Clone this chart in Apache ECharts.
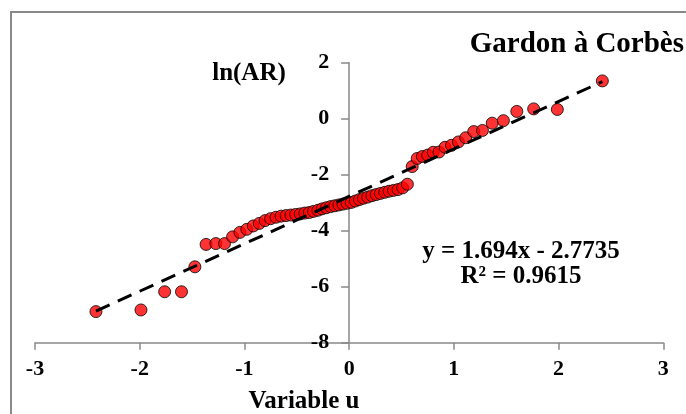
<!DOCTYPE html>
<html>
<head>
<meta charset="utf-8">
<script src="https://cdn.jsdelivr.net/npm/echarts@6/dist/echarts.min.js"></script>
<style>
html,body{margin:0;padding:0;background:#fff;}
#chart{width:686px;height:414px;}
</style>
</head>
<body>
<div id="chart"></div>
<script>
// Normal variate u (x) and ln(AR) (y)
var uValues = [-2.418,-1.988,-1.762,-1.601,-1.473,-1.366,-1.273,-1.190,-1.113,-1.043,-0.977,-0.916,-0.858,-0.803,-0.750,-0.699,-0.650,-0.602,-0.556,-0.511,-0.467,-0.424,-0.381,-0.340,-0.298,-0.258,-0.217,-0.177,-0.137,-0.098,-0.059,-0.020,
  0.020,0.059,0.098,0.137,0.177,0.217,0.258,0.298,0.340,0.381,0.424,0.467,0.511,0.556,0.602,0.650,0.699,0.750,0.803,0.858,0.916,0.977,1.043,1.113,1.190,1.273,1.366,1.473,1.601,1.762,1.988,2.418];
var lnAR = [-6.89,-6.83,-6.18,-6.18,-5.29,-4.49,-4.46,-4.46,-4.22,-4.06,-3.95,-3.83,-3.74,-3.64,-3.57,-3.52,-3.48,-3.46,-3.44,-3.42,-3.40,-3.37,-3.35,-3.31,-3.27,-3.22,-3.18,-3.14,-3.11,-3.08,-3.05,-3.02,
  -2.99,-2.94,-2.89,-2.84,-2.80,-2.75,-2.71,-2.67,-2.63,-2.59,-2.56,-2.53,-2.47,-2.34,-1.71,-1.42,-1.35,-1.30,-1.20,-1.19,-1.02,-0.95,-0.83,-0.68,-0.46,-0.42,-0.16,-0.07,0.26,0.35,0.33,1.35];
// Linear trend line end points (y = 1.694x - 2.7735)
var trendX = [-2.418, 2.418];
var trendY = [-6.870, 1.323];
var xTicks = ['-3','-2','-1','0','1','2','3'];
var yTicks = ['-8','-6','-4','-2','0','2'];
var titleText = 'Gardon à Corbès';
var yName = 'ln(AR)';
var xName = 'Variable u';
var eqLine1 = 'y = 1.694x - 2.7735';
var eqLine2 = 'R² = 0.9615';

var FONT = '"Liberation Serif","Times New Roman",serif';
var pts = uValues.map(function(u,i){return [u, lnAR[i]];});
var trend = trendX.map(function(x,i){return [x, trendY[i]];});

var gridLeft = 35, gridRight = 22.7;
var plotW = 686 - gridLeft - gridRight;
var yAxisShift = plotW * (0 - (-3)) / 6; // y axis crosses x at 0

var chart = echarts.init(document.getElementById('chart'), null, {renderer:'canvas'});
chart.setOption({
  animation:false,
  backgroundColor:'#fff',
  grid:{left:gridLeft, right:gridRight, top:62.7, bottom:71.3},
  xAxis:{
    type:'value', min:-3, max:3, interval:1,
    axisLine:{onZero:false, lineStyle:{color:'#898989', width:1.5}},
    axisTick:{show:true, length:7, lineStyle:{color:'#898989', width:1.5}},
    splitLine:{show:false},
    axisLabel:{color:'#000', fontFamily:FONT, fontWeight:'bold', fontSize:22, margin:16,
      formatter:function(v){return String(v);}}
  },
  yAxis:{
    type:'value', min:-8, max:2, interval:2, offset:-yAxisShift,
    axisLine:{onZero:false, lineStyle:{color:'#898989', width:1.5}},
    axisTick:{show:true, length:8, lineStyle:{color:'#898989', width:1.5}},
    splitLine:{show:false},
    axisLabel:{color:'#000', fontFamily:FONT, fontWeight:'bold', fontSize:22, margin:20,
      formatter:function(v){return String(v);}}
  },
  series:[
    {type:'scatter', data:pts, symbol:'circle', symbolSize:12, z:2,
      itemStyle:{color:'#ff0000', borderColor:'#000', borderWidth:1}},
    {type:'line', data:trend, showSymbol:false, symbol:'none', z:3,
      lineStyle:{color:'#000', width:3, type:[15,9]}}
  ],
  graphic:[
    {type:'rect', shape:{x:11, y:12, width:700, height:430}, style:{fill:'none', stroke:'#898989', lineWidth:2}, z:-1, silent:true},
    {type:'text', x:684, y:45, style:{text:titleText, font:'bold 29px '+FONT, fill:'#000', textAlign:'right', textVerticalAlign:'middle'}},
    {type:'text', x:249, y:74, style:{text:yName, font:'bold 25px '+FONT, fill:'#000', textAlign:'center', textVerticalAlign:'middle'}},
    {type:'text', x:304, y:402, style:{text:xName, font:'bold 25px '+FONT, fill:'#000', textAlign:'center', textVerticalAlign:'middle'}},
    {type:'text', x:521, y:252, style:{text:eqLine1, font:'bold 25px '+FONT, fill:'#000', textAlign:'center', textVerticalAlign:'middle'}},
    {type:'text', x:521, y:277, style:{text:eqLine2, font:'bold 25px '+FONT, fill:'#000', textAlign:'center', textVerticalAlign:'middle'}}
  ]
});
</script>
</body>
</html>
